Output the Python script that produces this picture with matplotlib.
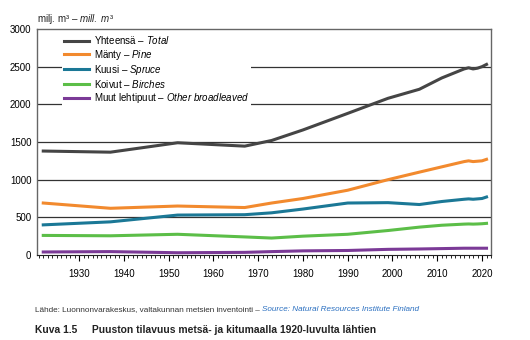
import matplotlib.pyplot as plt
from matplotlib.ticker import MultipleLocator
from matplotlib.transforms import offset_copy

plt.rcParams['font.family'] = ['Liberation Sans', 'DejaVu Sans']
plt.rcParams['mathtext.fontset'] = 'custom'
plt.rcParams['mathtext.it'] = 'Liberation Sans:italic'
plt.rcParams['mathtext.rm'] = 'Liberation Sans'

# inventointivuodet
vuodet = [1922, 1937, 1952, 1967, 1973, 1980, 1990, 1999, 2006, 2011, 2016, 2017, 2018, 2019, 2020, 2021]
yhteensa = [1380, 1365, 1490, 1445, 1520, 1660, 1880, 2080, 2200, 2350, 2470, 2485, 2470, 2480, 2500, 2530]
manty = [690, 620, 650, 630, 690, 750, 860, 1000, 1100, 1170, 1240, 1250, 1240, 1245, 1250, 1270]
kuusi = [400, 440, 530, 535, 560, 610, 690, 695, 670, 710, 740, 745, 740, 745, 750, 770]
koivut = [260, 255, 275, 240, 225, 250, 275, 325, 370, 395, 410, 412, 410, 412, 415, 420]
muut = [40, 45, 30, 35, 45, 55, 60, 75, 80, 85, 90, 90, 90, 90, 90, 90]

sarjat = [
    (yhteensa, 'Yhteensä – $\\it{Total}$', '#454545'),
    (manty, 'Mänty – $\\it{Pine}$', '#f28a2e'),
    (kuusi, 'Kuusi – $\\it{Spruce}$', '#1b7896'),
    (koivut, 'Koivut – $\\it{Birches}$', '#5cbe48'),
    (muut, 'Muut lehtipuut – $\\it{Other\\ broadleaved}$', '#7b3a97'),
]

fig = plt.figure(figsize=(5.3, 3.4), dpi=100)
ax = fig.add_axes([0.0698, 0.25, 0.8566, 0.6647])

for y in [500, 1000, 1500, 2000, 2500]:
    ax.axhline(y, color='#333333', lw=0.9, zorder=1)

for arvot, nimi, vari in sarjat:
    ax.plot(vuodet, arvot, color=vari, lw=2.2, label=nimi, zorder=3)

ax.set_xlim(1920.6, 2022)
ax.set_ylim(0, 3000)
ax.xaxis.set_major_locator(MultipleLocator(10))
ax.xaxis.set_minor_locator(MultipleLocator(1))
ax.yaxis.set_major_locator(MultipleLocator(500))
ax.tick_params(axis='x', which='major', length=4, width=0.8, labelsize=7, pad=6)
ax.tick_params(axis='x', which='minor', length=2.5, width=0.6)
ax.tick_params(axis='y', length=0, labelsize=7, pad=4)

for s in ['left', 'right', 'top']:
    ax.spines[s].set_color('#666666')
    ax.spines[s].set_linewidth(1.0)
ax.spines['bottom'].set_color('#222222')

leg = ax.legend(loc='upper left', bbox_to_anchor=(0.055, 0.985), fontsize=7,
                frameon=True, fancybox=False, edgecolor='none', framealpha=1,
                handlelength=2.6, handletextpad=0.5, labelspacing=0.12,
                borderpad=0.2, borderaxespad=0)
for line in leg.get_lines():
    line.set_linewidth(2.2)
leg.set_zorder(4)

fig.text(0.069, 0.935, 'milj. m³ – $\\it{mill.\\ m³}$', fontsize=7, color='#222222')

# lähde: kaksi osaa peräkkäin
t1 = fig.text(0.066, 0.085, 'Lähde: Luonnonvarakeskus, valtakunnan metsien inventointi – ',
              fontsize=5.9, color='#333333')
fig.canvas.draw()
leveys = t1.get_window_extent().width
fig.text(0.066, 0.085, 'Source: Natural Resources Institute Finland', fontsize=5.9,
         color='#2a6fc0', style='italic',
         transform=offset_copy(fig.transFigure, fig=fig, x=leveys, y=0, units='dots'))

fig.text(0.066, 0.02, 'Kuva 1.5', fontsize=7.4, fontweight='bold', color='#222222')
fig.text(0.174, 0.02, 'Puuston tilavuus metsä- ja kitumaalla 1920-luvulta lähtien', fontsize=7.4,
         fontweight='bold', color='#222222')

fig.savefig('out.png', dpi=100)
